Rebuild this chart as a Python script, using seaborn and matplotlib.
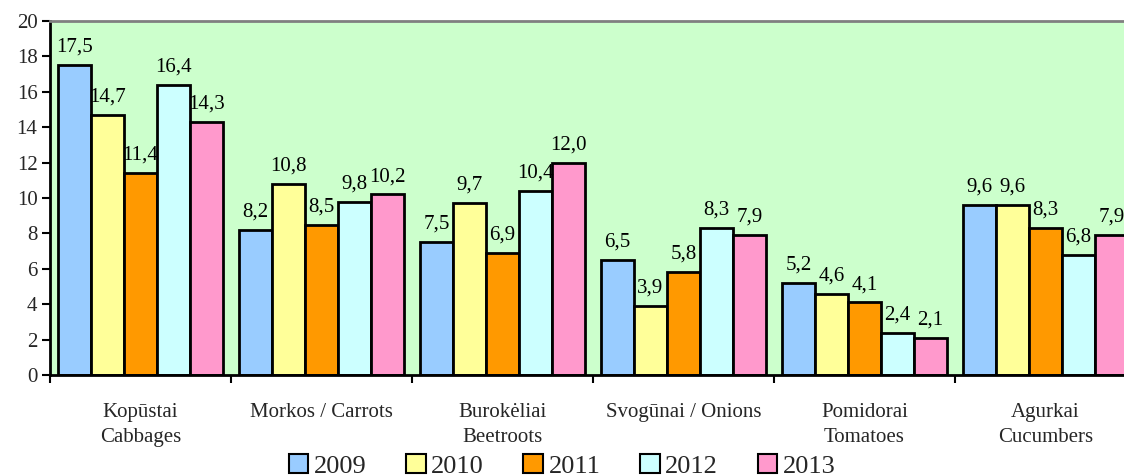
import matplotlib
matplotlib.use("Agg")
import matplotlib.pyplot as plt
import seaborn as sns
import pandas as pd
from matplotlib.patches import Patch

categories = ["Kopūstai\nCabbages", "Morkos / Carrots", "Burokėliai\nBeetroots",
              "Svogūnai / Onions", "Pomidorai\nTomatoes", "Agurkai\nCucumbers"]
years = ["2009", "2010", "2011", "2012", "2013"]
v2009 = [17.5, 8.2, 7.5, 6.5, 5.2, 9.6]
v2010 = [14.7, 10.8, 9.7, 3.9, 4.6, 9.6]
v2011 = [11.4, 8.5, 6.9, 5.8, 4.1, 8.3]
v2012 = [16.4, 9.8, 10.4, 8.3, 2.4, 6.8]
v2013 = [14.3, 10.2, 12.0, 7.9, 2.1, 7.9]
colors = ["#99CCFF", "#FFFF99", "#FF9900", "#CCFFFF", "#FF99CC"]
yticks = [0, 2, 4, 6, 8, 10, 12, 14, 16, 18, 20]

rows = []
for yr, vals in zip(years, [v2009, v2010, v2011, v2012, v2013]):
    for c, v in zip(categories, vals):
        rows.append({"cat": c, "year": yr, "val": v})
df = pd.DataFrame(rows)

sns.set_theme(style="white")
plt.rcParams["font.family"] = ["Liberation Serif", "DejaVu Serif"]

fig = plt.figure(figsize=(11.24, 4.76), dpi=100)
ax = fig.add_axes([50/1124, 1-375/476, 1086/1124, (375-21)/476])
ax.set_facecolor("#CCFFCC")

sns.barplot(data=df, x="cat", y="val", hue="year", palette=colors, saturation=1,
            edgecolor="black", linewidth=2, width=0.91, gap=0, ax=ax,
            legend=False, errorbar=None)

for cont in ax.containers:
    ax.bar_label(cont, labels=[f"{b.get_height():.1f}".replace(".", ",") for b in cont],
                 padding=6, fontsize=15, color="black")

ax.set_xlim(-0.5, 5.5)
ax.set_ylim(0, 20)
ax.set_yticks(yticks)
ax.set_yticklabels([str(t) for t in yticks], fontsize=15)
ax.set_xticks([i - 0.5 for i in range(7)])
ax.set_xticklabels([""] * 7)
ax.set_xticks(range(6), minor=True)
ax.set_xticklabels(categories, minor=True, fontsize=15, linespacing=1.45)
ax.tick_params(axis="x", which="minor", length=0, pad=20)
ax.tick_params(axis="x", which="major", length=6, width=1.5, direction="out", color="black", bottom=True)
ax.tick_params(axis="y", length=6, width=1.5, direction="out", color="black", left=True, pad=3)
ax.set_xlabel("")
ax.set_ylabel("")

for s in ["left", "bottom"]:
    ax.spines[s].set_color("black")
    ax.spines[s].set_linewidth(2)
ax.spines["top"].set_color("#808080")
ax.spines["top"].set_linewidth(2)
ax.spines["right"].set_visible(False)

handles = [Patch(facecolor=c, edgecolor="black", linewidth=1.5) for c in colors]
fig.legend(handles, years, loc="center", bbox_to_anchor=(0.5, 1-466/476), ncol=5,
           frameon=False, fontsize=19, handlelength=0.75, handleheight=0.75,
           handletextpad=0.2, columnspacing=1.5, borderpad=0)

fig.savefig("out.png", dpi=100)
